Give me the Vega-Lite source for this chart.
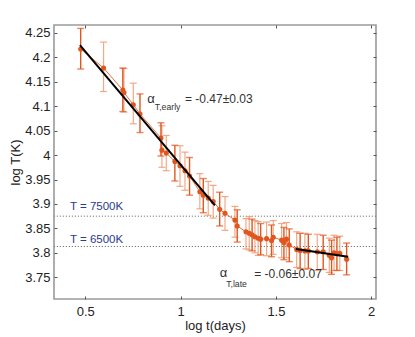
{
  "$schema": "https://vega.github.io/schema/vega-lite/v6.json",
  "width": 322,
  "height": 274,
  "autosize": {"type": "none"},
  "padding": {"left": 54, "top": 25, "right": 39, "bottom": 38},
  "background": "white",
  "config": {
    "view": {"stroke": "#9a9a9a", "strokeWidth": 1.6},
    "font": "Liberation Sans",
    "axis": {
      "domain": false,
      "grid": false,
      "tickColor": "#555555",
      "tickSize": -3,
      "tickWidth": 1,
      "labelFont": "Liberation Sans",
      "labelFontSize": 13,
      "labelColor": "#222222",
      "titleFont": "Liberation Sans",
      "titleFontSize": 13,
      "titleFontWeight": "normal",
      "titleColor": "#222222"
    }
  },
  "datasets": {
    "obs": [
      {"x": 0.476, "y": 4.217, "lo": 4.176, "hi": 4.259, "shade": "dark"},
      {"x": 0.596, "y": 4.178, "lo": 4.130, "hi": 4.231, "shade": "light"},
      {"x": 0.697, "y": 4.133, "lo": 4.089, "hi": 4.178, "shade": "dark"},
      {"x": 0.703, "y": 4.128, "lo": 4.088, "hi": 4.177, "shade": "light"},
      {"x": 0.752, "y": 4.103, "lo": 4.064, "hi": 4.147, "shade": "light"},
      {"x": 0.787, "y": 4.084, "lo": 4.046, "hi": 4.125, "shade": "dark"},
      {"x": 0.897, "y": 4.035, "lo": 3.998, "hi": 4.066, "shade": "dark"},
      {"x": 0.902, "y": 4.010, "lo": 3.975, "hi": 4.060, "shade": "light"},
      {"x": 0.925, "y": 4.004, "lo": 3.968, "hi": 4.040, "shade": "light"},
      {"x": 0.970, "y": 3.987, "lo": 3.947, "hi": 4.020, "shade": "dark"},
      {"x": 0.997, "y": 3.978, "lo": 3.936, "hi": 4.019, "shade": "light"},
      {"x": 1.023, "y": 3.968, "lo": 3.928, "hi": 4.006, "shade": "light"},
      {"x": 1.047, "y": 3.957, "lo": 3.918, "hi": 3.995, "shade": "dark"},
      {"x": 1.101, "y": 3.925, "lo": 3.890, "hi": 3.962, "shade": "light"},
      {"x": 1.119, "y": 3.918, "lo": 3.882, "hi": 3.952, "shade": "dark"},
      {"x": 1.145, "y": 3.912, "lo": 3.877, "hi": 3.946, "shade": "light"},
      {"x": 1.171, "y": 3.905, "lo": 3.871, "hi": 3.938, "shade": "light"},
      {"x": 1.205, "y": 3.889, "lo": 3.855, "hi": 3.924, "shade": "dark"},
      {"x": 1.233, "y": 3.881, "lo": 3.846, "hi": 3.915, "shade": "light"},
      {"x": 1.285, "y": 3.867, "lo": 3.832, "hi": 3.895, "shade": "light"},
      {"x": 1.297, "y": 3.855, "lo": 3.822, "hi": 3.888, "shade": "dark"},
      {"x": 1.343, "y": 3.843, "lo": 3.808, "hi": 3.870, "shade": "light"},
      {"x": 1.360, "y": 3.840, "lo": 3.806, "hi": 3.874, "shade": "light"},
      {"x": 1.375, "y": 3.837, "lo": 3.804, "hi": 3.869, "shade": "dark"},
      {"x": 1.390, "y": 3.833, "lo": 3.800, "hi": 3.866, "shade": "light"},
      {"x": 1.407, "y": 3.830, "lo": 3.795, "hi": 3.864, "shade": "light"},
      {"x": 1.420, "y": 3.828, "lo": 3.796, "hi": 3.860, "shade": "dark"},
      {"x": 1.451, "y": 3.829, "lo": 3.794, "hi": 3.863, "shade": "light"},
      {"x": 1.477, "y": 3.825, "lo": 3.792, "hi": 3.857, "shade": "dark"},
      {"x": 1.486, "y": 3.832, "lo": 3.797, "hi": 3.866, "shade": "light"},
      {"x": 1.530, "y": 3.826, "lo": 3.790, "hi": 3.860, "shade": "light"},
      {"x": 1.542, "y": 3.821, "lo": 3.786, "hi": 3.852, "shade": "dark"},
      {"x": 1.555, "y": 3.828, "lo": 3.790, "hi": 3.862, "shade": "light"},
      {"x": 1.570, "y": 3.816, "lo": 3.782, "hi": 3.849, "shade": "dark"},
      {"x": 1.609, "y": 3.807, "lo": 3.770, "hi": 3.843, "shade": "light"},
      {"x": 1.627, "y": 3.805, "lo": 3.768, "hi": 3.840, "shade": "dark"},
      {"x": 1.652, "y": 3.804, "lo": 3.766, "hi": 3.840, "shade": "light"},
      {"x": 1.670, "y": 3.804, "lo": 3.768, "hi": 3.838, "shade": "dark"},
      {"x": 1.717, "y": 3.802, "lo": 3.764, "hi": 3.838, "shade": "light"},
      {"x": 1.748, "y": 3.802, "lo": 3.766, "hi": 3.836, "shade": "dark"},
      {"x": 1.780, "y": 3.795, "lo": 3.760, "hi": 3.830, "shade": "light"},
      {"x": 1.792, "y": 3.790, "lo": 3.756, "hi": 3.826, "shade": "dark"},
      {"x": 1.805, "y": 3.800, "lo": 3.764, "hi": 3.836, "shade": "light"},
      {"x": 1.820, "y": 3.798, "lo": 3.764, "hi": 3.832, "shade": "dark"},
      {"x": 1.835, "y": 3.799, "lo": 3.764, "hi": 3.834, "shade": "light"},
      {"x": 1.871, "y": 3.787, "lo": 3.755, "hi": 3.820, "shade": "dark"}
    ],
    "fits": [
      {"x": 0.472, "y": 4.225, "seg": "early"},
      {"x": 1.180, "y": 3.897, "seg": "early"},
      {"x": 1.605, "y": 3.808, "seg": "late"},
      {"x": 1.879, "y": 3.792, "seg": "late"}
    ],
    "refs": [
      {"y": 3.875, "label": "T = 7500K", "lx": 0.42, "ly": 3.888},
      {"y": 3.813, "label": "T = 6500K", "lx": 0.42, "ly": 3.820}
    ],
    "notes": [
      {"x": 0.825, "y": 4.106, "t": "α", "size": 13},
      {"x": 0.865, "y": 4.092, "t": "T,early", "size": 8.7},
      {"x": 1.023, "y": 4.106, "t": "= -0.47±0.03", "size": 12},
      {"x": 1.206, "y": 3.750, "t": "α", "size": 13},
      {"x": 1.239, "y": 3.731, "t": "T,late", "size": 8.7},
      {"x": 1.386, "y": 3.749, "t": "= -0.06±0.07", "size": 12}
    ]
  },
  "resolve": {"axis": {"x": "independent", "y": "independent"}},
  "layer": [
    {
      "data": {"name": "refs"},
      "mark": {"type": "rule", "color": "#7a7a7a", "strokeDash": [1.2, 1.8], "strokeWidth": 1},
      "encoding": {
        "y": {"field": "y", "type": "quantitative", "scale": {"domain": [3.7056, 4.266], "nice": false, "zero": false}, "axis": null}
      }
    },
    {
      "data": {"name": "refs"},
      "mark": {"type": "text", "align": "left", "baseline": "alphabetic", "fontSize": 11.5, "color": "#2b3a8f", "font": "Liberation Sans"},
      "encoding": {
        "x": {"field": "lx", "type": "quantitative", "scale": {"domain": [0.336, 2.025], "nice": false, "zero": false}, "axis": null},
        "y": {"field": "ly", "type": "quantitative", "axis": null},
        "text": {"field": "label"}
      }
    },
    {
      "data": {"name": "obs"},
      "transform": [{"filter": "datum.shade === 'light'"}],
      "layer": [
        {"mark": {"type": "rule", "color": "#f09a72", "strokeWidth": 1.2, "opacity": 0.85},
         "encoding": {"x": {"field": "x", "type": "quantitative", "axis": null}, "y": {"field": "lo", "type": "quantitative", "axis": null}, "y2": {"field": "hi"}}},
        {"mark": {"type": "tick", "orient": "horizontal", "color": "#f09a72", "size": 7, "thickness": 1.2, "opacity": 0.85},
         "encoding": {"x": {"field": "x", "type": "quantitative", "axis": null}, "y": {"field": "lo", "type": "quantitative", "axis": null}}},
        {"mark": {"type": "tick", "orient": "horizontal", "color": "#f09a72", "size": 7, "thickness": 1.2, "opacity": 0.85},
         "encoding": {"x": {"field": "x", "type": "quantitative", "axis": null}, "y": {"field": "hi", "type": "quantitative", "axis": null}}}
      ]
    },
    {
      "data": {"name": "obs"},
      "mark": {"type": "line", "color": "#e8703a", "strokeWidth": 1},
      "encoding": {
        "x": {"field": "x", "type": "quantitative", "axis": null},
        "y": {"field": "y", "type": "quantitative", "axis": null},
        "order": {"field": "x"}
      }
    },
    {
      "data": {"name": "obs"},
      "transform": [{"filter": "datum.shade === 'dark'"}],
      "layer": [
        {"mark": {"type": "rule", "color": "#e0561e", "strokeWidth": 1.4},
         "encoding": {"x": {"field": "x", "type": "quantitative", "axis": null}, "y": {"field": "lo", "type": "quantitative", "axis": null}, "y2": {"field": "hi"}}},
        {"mark": {"type": "tick", "orient": "horizontal", "color": "#e0561e", "size": 7, "thickness": 1.4},
         "encoding": {"x": {"field": "x", "type": "quantitative", "axis": null}, "y": {"field": "lo", "type": "quantitative", "axis": null}}},
        {"mark": {"type": "tick", "orient": "horizontal", "color": "#e0561e", "size": 7, "thickness": 1.4},
         "encoding": {"x": {"field": "x", "type": "quantitative", "axis": null}, "y": {"field": "hi", "type": "quantitative", "axis": null}}}
      ]
    },
    {
      "data": {"name": "obs"},
      "mark": {"type": "circle", "color": "#e0561e", "opacity": 1, "size": 26},
      "encoding": {
        "x": {"field": "x", "type": "quantitative", "title": "log t(days)",
              "axis": {"values": [0.5, 1, 1.5, 2], "format": "~g", "labelPadding": 9, "titlePadding": 1}},
        "y": {"field": "y", "type": "quantitative", "title": "log T(K)",
              "axis": {"values": [3.75, 3.8, 3.85, 3.9, 3.95, 4, 4.05, 4.1, 4.15, 4.2, 4.25], "format": "~g", "labelPadding": 7, "titlePadding": 2}}
      }
    },
    {
      "data": {"name": "fits"},
      "mark": {"type": "line", "color": "#000000", "strokeWidth": 2},
      "encoding": {
        "x": {"field": "x", "type": "quantitative", "axis": {"orient": "top", "values": [0.5, 1, 1.5, 2], "labels": false, "title": null}},
        "y": {"field": "y", "type": "quantitative", "axis": {"orient": "right", "values": [3.75, 3.8, 3.85, 3.9, 3.95, 4, 4.05, 4.1, 4.15, 4.2, 4.25], "labels": false, "title": null}},
        "detail": {"field": "seg"}
      }
    },
    {
      "data": {"name": "notes"},
      "mark": {"type": "text", "align": "left", "baseline": "alphabetic", "color": "#333333", "font": "Liberation Sans"},
      "encoding": {
        "x": {"field": "x", "type": "quantitative", "axis": null},
        "y": {"field": "y", "type": "quantitative", "axis": null},
        "text": {"field": "t"},
        "size": {"field": "size", "type": "quantitative", "scale": null, "legend": null}
      }
    }
  ]
}
